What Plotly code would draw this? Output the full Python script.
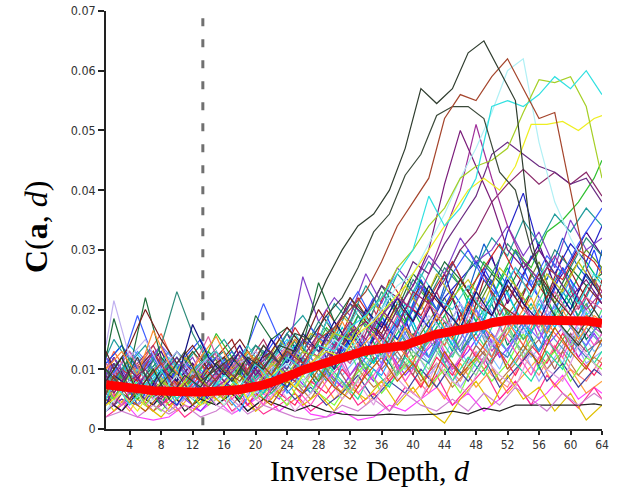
import plotly.graph_objects as go

# ---------------- data (values in units of 1e-3) ----------------
X_ODD = [1, 3, 5, 7, 9, 11, 13, 15, 17, 19, 21, 23, 25, 27, 29, 31, 33, 35, 37, 39,
         41, 43, 45, 47, 49, 51, 53, 55, 57, 59, 61, 63, 64]
X_EVEN = [1, 2, 4, 6, 8, 10, 12, 14, 16, 18, 20, 22, 24, 26, 28, 30, 32, 34, 36, 38,
          40, 42, 44, 46, 48, 50, 52, 54, 56, 58, 60, 62, 64]
X_ALL = list(range(1, 65))

X_TICKS = [4, 8, 12, 16, 20, 24, 28, 32, 36, 40, 44, 48, 52, 56, 60, 64]
Y_TICKS = [0, 0.01, 0.02, 0.03, 0.04, 0.05, 0.06, 0.07]
Y_TICK_LABELS = ["0", "0.01", "0.02", "0.03", "0.04", "0.05", "0.06", "0.07"]

DASH_X = 13.3
DASH_Y = [0.0688, 0.0]

mean_curve = [7.4, 7.3, 7.1, 7.0, 6.8, 6.6, 6.4, 6.3, 6.3, 6.3, 6.2, 6.2, 6.2, 6.2, 6.3, 6.4,
              6.5, 6.6, 6.8, 7.1, 7.4, 7.8, 8.2, 8.7, 9.3, 9.9, 10.3, 10.7, 11.3, 11.8, 12.2, 12.6,
              12.9, 13.1, 13.3, 13.5, 13.6, 13.7, 14.0, 14.5, 15.1, 15.6, 15.9, 16.1, 16.3, 16.5, 16.7, 17.0,
              17.4, 17.8, 18.1, 18.2, 18.3, 18.3, 18.3, 18.3, 18.2, 18.1, 18.0, 18.0, 18.1, 18.1, 17.9, 17.7]

# high-peak curves
h1 = [8, 12, 6, 10, 5, 9, 7, 11, 8, 12, 10, 14, 13, 19, 25, 30, 34, 36, 40, 47, 57, 54.5, 57, 63, 65, 60, 55, 32, 21, 17, 14, 18, 16]
h2 = [6, 9, 5, 8, 11, 6, 9, 7, 10, 8, 12, 9, 13, 11, 15, 17, 20, 23, 28, 34, 38, 42, 52, 56, 55, 59, 62, 57, 52, 53, 40, 27, 22]
h3 = [10, 7, 12, 6, 9, 13, 8, 10, 12, 9, 14, 11, 16, 15, 19, 22, 27, 33, 36, 42.5, 46, 52.5, 54, 54, 52, 43, 40, 30, 23, 19, 16, 20, 18]
h4 = [5, 8, 4, 7, 10, 5, 8, 6, 9, 7, 11, 8, 12, 10, 14, 13, 17, 19, 22, 26, 30, 39, 34, 37, 42, 54, 55, 54, 56, 59, 57, 60, 56]
h5 = [7, 5, 9, 4, 8, 6, 10, 7, 5, 9, 7, 11, 9, 13, 12, 16, 15, 19, 22, 27, 30, 34, 37, 42, 44, 45, 47, 53, 58.5, 58, 59, 54, 42]
h6 = [4, 6, 3, 7, 5, 8, 4, 6, 9, 5, 8, 10, 7, 11, 13, 12, 16, 18, 21, 24, 28, 32, 36, 40, 42, 40, 44, 51, 51, 51.5, 50, 52, 52.5]
h7 = [3, 5, 8, 4, 6, 9, 5, 7, 4, 8, 6, 9, 11, 8, 12, 15, 13, 17, 20, 24, 26, 31, 36, 42, 47, 53, 60, 62, 48, 38, 32, 27, 24]
h8 = [9, 6, 10, 7, 5, 9, 6, 11, 8, 6, 10, 7, 12, 10, 14, 12, 16, 18, 15, 20, 24, 30, 41, 50, 44, 38, 30, 27, 30, 26, 22, 25, 21]
h9 = [5, 8, 6, 9, 4, 7, 10, 6, 8, 11, 7, 9, 13, 11, 10, 14, 17, 15, 19, 22, 20, 26, 33, 40, 51, 42, 34, 28, 25, 29, 24, 20, 23]
h10 = [8, 11, 7, 5, 9, 12, 8, 6, 10, 13, 9, 12, 10, 15, 13, 17, 21, 19, 24, 22, 28, 26, 31, 35, 39, 46, 48, 46, 44, 43, 41, 42, 38]
h11 = [6, 4, 8, 10, 6, 9, 5, 8, 11, 7, 10, 13, 9, 12, 16, 14, 18, 15, 20, 17, 23, 21, 25, 30, 33, 38, 41, 43.5, 41, 43, 41, 43, 39]

# mid-level curves
m1 = [4, 7, 5, 9, 6, 4, 8, 5, 7, 10, 6, 9, 7, 11, 14, 12, 16, 13, 18, 15, 20, 17, 22, 25, 28, 24, 33, 39.5, 30, 26, 31, 28, 34]
m2 = [6, 9, 5, 8, 11, 7, 10, 16, 12, 9, 13, 10, 15, 12, 17, 14, 19, 16, 21, 18, 23, 20, 26, 22, 28, 25, 30, 27, 33, 35, 38, 42, 45]
m3 = [12, 15, 11, 14, 9, 13, 10, 12, 15, 11, 14, 12, 16, 19, 15, 21, 18, 24, 20, 26, 23, 28, 25, 30, 27, 32, 29, 35, 31, 36, 33, 37, 34]
m4 = [7, 10, 8, 13, 9, 6, 11, 8, 12, 10, 14, 11, 17, 13, 20, 16, 22, 18, 25, 21, 19, 24, 28, 23, 27, 31, 26, 23, 27, 25, 30, 28, 26]
m5 = [9, 12, 8, 11, 14, 9, 12, 7, 10, 13, 9, 15, 12, 25.5, 18, 22, 19, 26, 21, 27, 24, 29, 26, 32, 28, 30, 34, 29, 33, 27, 35, 30, 32]
m6 = [10, 8, 12, 9, 14, 23, 16, 11, 13, 9, 14, 11, 16, 13, 18, 15, 21, 17, 23, 19, 25, 22, 27, 24, 29, 26, 31, 28, 24, 30, 27, 32, 29]
m7 = [8, 11, 19, 12, 8, 11, 9, 12, 10, 14, 21, 15, 12, 17, 14, 19, 23, 18, 22, 17, 24, 20, 26, 30, 25, 22, 27, 24, 29, 26, 31, 35, 37]
m8 = [12, 18.5, 10, 22, 12, 9, 13, 10, 12, 9, 19, 15, 17, 14, 24.5, 18, 22, 19, 24, 20, 26, 23, 28, 25, 21, 26, 23, 28, 25, 22, 27, 24, 26]
m9 = [5, 8, 6, 10, 7, 12, 9, 11, 8, 13, 10, 15, 12, 16, 14, 19, 16, 21, 18, 24, 20, 26, 22, 25, 21, 27, 24, 20, 26, 23, 28, 24, 27]
m10 = [11, 9, 13, 8, 11, 7, 10, 15.5, 9, 12, 8, 11, 14, 10, 16, 13, 11, 17, 14, 19, 15, 21, 18, 16, 22, 19, 24, 20, 17, 23, 19, 22, 20]
m11 = [13, 10, 14, 20, 15, 11, 14, 10, 12, 15, 11, 13, 17, 14, 20, 16, 22, 18, 16, 21, 18, 23, 20, 25, 21, 19, 24, 20, 26, 22, 19, 24, 21]
m12 = [9, 6, 10, 7, 12, 8, 11, 13, 9, 14, 10, 13, 16, 12, 18, 15, 20, 17, 23, 19, 26, 22, 20, 24, 19, 23, 27, 22, 28, 24, 21, 26, 25]
m13 = [14, 21.5, 12, 15, 10, 13, 9, 12, 8, 11, 13, 10, 14, 12, 16, 13, 18, 15, 12, 17, 14, 19, 16, 21, 17, 14, 19, 16, 22, 18, 15, 20, 17]
m14 = [10, 13, 9, 16.5, 11, 8, 12, 15.5, 10, 13, 9, 12, 15, 11, 14, 18, 13, 16, 12, 17, 14, 19, 15, 21, 17, 14, 18, 22, 16, 20, 15, 19, 18]
m15 = [6, 9, 7, 5, 10, 8, 17.5, 12, 9, 13, 10, 15, 11, 16, 13, 18, 14, 20, 17, 22, 18, 24, 20, 17, 23, 19, 25, 21, 18, 24, 20, 26, 22]

# low-band curves
l1 = [3, 5, 2, 1.5, 2, 4, 3, 5, 2.5, 4, 6, 3, 5, 2.5, 2, 3, 1.5, 2, 4, 3, 5, 7, 4, 6, 3, 5, 8, 4, 6, 9, 5, 7, 6]
l2 = [7, 5, 8, 4, 6, 9, 5, 7, 10, 6, 8, 5, 9, 7, 11, 8, 6, 10, 7, 12, 9, 6, 11, 8, 13, 9, 7, 12, 9, 14, 10, 8, 12]
l3 = [11, 8, 12, 9, 6, 10, 7, 11, 8, 5, 9, 12, 8, 10, 13, 9, 12, 8, 14, 10, 13, 9, 15, 11, 14, 10, 16, 12, 15, 11, 17, 13, 14]
l4 = [4, 6, 3, 7, 5, 3, 6, 4, 8, 5, 3, 7, 4, 6, 9, 5, 8, 4, 7, 10, 6, 9, 5, 11, 7, 10, 6, 9, 12, 7, 10, 6, 8]
l5 = [9, 12, 7, 10, 13, 8, 11, 6, 9, 12, 7, 10, 14, 9, 12, 16, 10, 14, 11, 17, 13, 16, 12, 18, 14, 20, 15, 19, 24, 18, 22, 17, 20]
l6 = [6, 9, 11, 7, 10, 6, 9, 12, 7, 10, 5, 8, 11, 6, 9, 13, 8, 11, 6, 10, 14, 9, 12, 7, 11, 15, 10, 13, 8, 12, 16, 11, 13]
l7 = [2, 4, 6, 3, 5, 2, 4, 7, 3, 5, 2.5, 4, 6, 3, 5, 8, 4, 6, 3, 7, 5, 9, 4, 7, 10, 5, 8, 4, 9, 6, 3.5, 7, 5]
l8 = [8, 11, 6, 9, 12, 7, 4, 8, 11, 6, 9, 13, 8, 11, 7, 12, 15, 10, 13, 9, 16, 12, 18, 13, 16, 21, 14, 18, 13, 17, 22, 15, 18]
l9 = [5, 3, 7, 4, 8, 5, 3, 6, 9, 4, 7, 5, 9, 6, 10, 7, 11, 8, 13, 9, 12, 15, 10, 13, 17, 12, 15, 19, 14, 17, 12, 16, 14]
l10 = [10, 7, 9, 12, 8, 11, 7, 9, 6, 8, 11, 7, 10, 13, 9, 11, 14, 10, 16, 12, 10, 15, 11, 14, 18, 12, 16, 13, 19, 15, 12, 17, 14]
l11 = [6, 8, 5, 3, 6, 9, 5, 7, 4, 7, 10, 6, 8, 5, 9, 6, 10, 7, 9, 13, 8, 11, 7, 10, 13, 8, 11, 15, 10, 13, 9, 12, 11]
l12 = [13, 10, 14, 11, 8, 12, 9, 13, 10, 14, 8, 12, 15, 11, 14, 10, 17, 13, 19, 15, 21, 17, 14, 20, 16, 23, 18, 15, 21, 17, 24, 19, 22]
l13 = [4, 7, 5, 8, 4, 6, 9, 5, 7, 4, 8, 6, 4, 8, 6, 10, 7, 12, 8, 11, 7, 12, 9, 14, 10, 13, 9, 14, 11, 16, 12, 9, 11]
l14 = [7, 4, 8, 5, 3, 6, 8, 4, 6, 9, 5, 7, 4, 9, 6, 4, 8, 11, 6, 9, 12, 7, 10, 6, 12, 8, 11, 16, 10, 13, 8, 12, 10]
l15 = [3, 5, 4, 6, 3, 5, 7, 4, 6, 3, 5, 8, 5, 7, 4, 6, 9, 5, 8, 6, 10, 7, 11, 8, 12, 7, 10, 13, 8, 11, 7, 10, 9]
l16 = [9, 6, 10, 7, 12, 8, 11, 6, 9, 12, 7, 10, 13, 8, 11, 15, 9, 12, 16, 10, 14, 18, 11, 15, 20, 13, 17, 22, 15, 19, 14, 18, 16]
l17 = [11, 14, 9, 12, 8, 11, 14, 9, 12, 7, 10, 13, 9, 12, 8, 13, 17, 11, 15, 20, 14, 18, 13, 20, 16, 22, 17, 21, 16, 23, 19, 25, 22]
l18 = [5, 3, 6, 4, 2, 5, 3, 6, 4, 7, 3, 5, 8, 4, 6, 3, 7, 5, 8, 4, 7, 3, 1, 5, 8, 4, 9, 5, 7, 3, 6, 1.5, 4]
l19 = [12, 9, 13, 10, 7, 12, 9, 13, 10, 12, 8, 11, 14, 10, 15, 11, 14, 18, 12, 16, 21, 15, 19, 14, 22, 17, 20, 25, 19, 22, 18, 23, 21]
l20 = [8, 10, 6, 9, 7, 10, 6, 9, 12, 7, 10, 6, 9, 12, 8, 11, 7, 14, 10, 13, 9, 16, 12, 9, 14, 11, 17, 12, 15, 10, 16, 13, 15]
l21 = [6, 4, 8, 5, 10, 6, 4, 8, 6, 10, 5, 7, 10, 6, 11, 8, 5, 10, 7, 12, 9, 14, 8, 12, 9, 15, 11, 8, 13, 10, 16, 11, 13]
l22 = [10, 13, 9, 12, 16, 10, 13, 9, 11, 7, 12, 9, 13, 10, 15, 11, 16, 12, 18, 14, 11, 17, 14, 19, 15, 12, 18, 14, 20, 16, 13, 19, 17]
l23 = [5, 3, 6, 4, 7, 3, 5, 4, 6, 3, 5, 4, 3, 4, 3, 2.5, 2.3, 2.3, 2.5, 2.3, 2.4, 2.5, 3, 2.5, 3.5, 3, 4, 4, 4, 4, 4, 4.2, 4]
l24 = [7, 10, 7, 11, 8, 5, 9, 12, 8, 11, 6, 10, 13, 9, 12, 8, 14, 10, 13, 17, 12, 15, 19, 13, 17, 14, 20, 15, 18, 13, 17, 21, 16]
l25 = [2, 3, 2, 4, 2.5, 4, 2, 3, 5, 2.5, 4, 3, 2, 1.5, 2, 4, 3, 5, 3, 6, 4, 3, 5, 3, 6, 4, 7, 5, 3, 6, 4, 6, 5]
l26 = [9, 12, 8, 11, 9, 13, 10, 8, 11, 9, 13, 10, 8, 12, 10, 14, 11, 15, 12, 17, 13, 11, 16, 12, 18, 14, 12, 17, 13, 19, 15, 12, 16]

# extra band curves
e1 = [6, 9, 4, 8, 11, 7, 5, 9, 12, 8, 6, 10, 13, 9, 16, 12, 19, 15, 22, 17, 25, 20, 28, 23, 31, 26, 22, 29, 25, 32, 27, 24, 30]
e2 = [8, 5, 10, 7, 4, 9, 6, 11, 8, 5, 9, 12, 7, 11, 14, 10, 13, 17, 12, 16, 20, 15, 19, 24, 18, 22, 27, 21, 25, 19, 23, 28, 24]
e3 = [12, 8, 11, 14, 9, 7, 10, 13, 8, 11, 15, 10, 8, 13, 11, 16, 12, 20, 15, 13, 18, 23, 17, 21, 26, 19, 24, 18, 22, 27, 20, 25, 23]
e4 = [5, 8, 11, 6, 9, 4, 7, 10, 6, 3, 8, 11, 6, 9, 12, 7, 15, 11, 9, 14, 18, 12, 16, 21, 14, 19, 23, 17, 13, 20, 25, 18, 22]
e5 = [3, 6, 4, 7, 3, 5, 8, 4, 2.5, 6, 4, 7, 3, 6, 9, 5, 8, 4, 10, 7, 5, 11, 8, 6, 12, 9, 7, 13, 10, 8, 14, 11, 9]
e6 = [10, 7, 12, 9, 6, 11, 8, 13, 10, 7, 12, 9, 14, 11, 8, 13, 17, 12, 15, 20, 14, 18, 22, 16, 20, 25, 19, 23, 28, 21, 26, 30, 27]
e7 = [7, 4, 9, 5, 8, 11, 6, 9, 5, 8, 4, 10, 7, 4, 8, 11, 6, 9, 13, 8, 12, 16, 10, 14, 11, 17, 13, 9, 15, 12, 18, 14, 16]
e8 = [9, 12, 7, 10, 13, 8, 11, 7, 10, 14, 9, 12, 16, 11, 14, 10, 18, 13, 17, 22, 15, 20, 26, 18, 23, 29, 21, 26, 31, 24, 28, 33, 29]
e9 = [8, 11, 6, 9, 13, 8, 10, 7, 12, 9, 6, 11, 14, 9, 12, 17, 13, 11, 16, 21, 15, 19, 14, 22, 18, 25, 20, 16, 23, 27, 21, 26, 24]
e10 = [4, 7, 5, 3, 6, 8, 4, 7, 5, 9, 6, 4, 8, 6, 10, 7, 5, 9, 12, 8, 11, 7, 13, 9, 12, 16, 10, 14, 11, 17, 13, 10, 15]
e11 = [11, 14, 10, 13, 8, 12, 15, 10, 13, 9, 12, 16, 11, 15, 19, 13, 17, 22, 16, 20, 25, 18, 23, 19, 27, 22, 30, 24, 20, 27, 23, 30, 26]
e12 = [6, 9, 7, 4, 8, 10, 6, 9, 7, 11, 5, 8, 10, 7, 12, 9, 6, 11, 14, 9, 13, 10, 15, 12, 9, 14, 17, 12, 16, 20, 14, 18, 15]
e13 = [9, 6, 10, 13, 7, 11, 8, 12, 15, 9, 13, 10, 15, 12, 18, 14, 21, 17, 14, 20, 24, 18, 22, 17, 25, 21, 19, 26, 22, 29, 24, 20, 25]
e14 = [12, 9, 13, 10, 14, 11, 8, 12, 9, 13, 10, 7, 11, 14, 10, 16, 12, 15, 11, 18, 14, 12, 17, 13, 20, 16, 13, 18, 15, 21, 17, 14, 19]

# (series, x grid) pairs, drawn in this order
SERIES = [
    (l1, X_ODD), (l2, X_EVEN), (l3, X_ODD), (l4, X_EVEN), (l5, X_ODD), (l6, X_EVEN),
    (l7, X_ODD), (l8, X_EVEN), (l9, X_ODD), (l10, X_EVEN), (l11, X_ODD), (l12, X_EVEN),
    (l13, X_ODD), (l14, X_EVEN), (l15, X_ODD), (l16, X_EVEN), (l17, X_ODD), (l18, X_EVEN),
    (l19, X_ODD), (l20, X_EVEN), (l21, X_ODD), (l22, X_EVEN), (l23, X_ODD), (l24, X_EVEN),
    (l25, X_ODD), (l26, X_EVEN),
    (e1, X_ODD), (e2, X_EVEN), (e3, X_ODD), (e4, X_EVEN), (e5, X_ODD), (e6, X_EVEN),
    (e7, X_ODD), (e8, X_EVEN), (e9, X_ODD), (e10, X_EVEN), (e11, X_ODD), (e12, X_EVEN),
    (e13, X_ODD), (e14, X_EVEN),
    (m1, X_EVEN), (m2, X_ODD), (m3, X_EVEN), (m4, X_ODD), (m5, X_EVEN), (m6, X_EVEN),
    (m7, X_ODD), (m8, X_EVEN), (m9, X_ODD), (m10, X_EVEN), (m11, X_EVEN), (m12, X_ODD),
    (m13, X_EVEN), (m14, X_ODD), (m15, X_EVEN),
    (h11, X_EVEN), (h10, X_EVEN), (h9, X_EVEN), (h8, X_EVEN), (h7, X_EVEN), (h6, X_ODD),
    (h5, X_EVEN), (h4, X_EVEN), (h3, X_ODD), (h2, X_EVEN), (h1, X_ODD),
]

# ---------------- styles ----------------
COLORS = [
    "#ff40ff", "#ff8080", "#80c0ff", "#ffa040", "#40e080", "#a0a0ff",
    "#ff3090", "#008060", "#9030ff", "#60a0c0", "#c08040", "#20c0ff",
    "#ff2060", "#80ff40", "#4040a0", "#c040c0", "#00a8a8", "#e0c000",
    "#6080ff", "#a06060", "#20e0a0", "#ff6040", "#202020", "#50b050",
    "#d080d0", "#4080c0",
    "#1060d0", "#00c060", "#b03060", "#30a0ff", "#e0a0e0", "#609020",
    "#ff50c0", "#4b0082", "#00d0d0", "#c06000", "#2040ff", "#90e090",
    "#a02020", "#7070ff",
    "#2323c8", "#2fc02f", "#209d9d", "#d02828", "#8040c8", "#2e8b7a",
    "#3c5cff", "#1e6e3c", "#c0c020", "#e060a0", "#7a1e1e", "#40d0d0",
    "#c0b0f0", "#ff9030", "#101080",
    "#8a2a6a", "#6b2c82", "#a0309a", "#7a1c7a", "#b0f0f5", "#eeee20",
    "#a5cf25", "#30e0e0", "#3b4a3a", "#a5452c", "#2f3d2f",
]

X_TICK_FONT = dict(family="DejaVu Sans Condensed, DejaVu Sans", size=12, color="#333")
Y_TICK_FONT = dict(family="DejaVu Sans Condensed, DejaVu Sans", size=12.5, color="#333")

fig = go.Figure()

for (vals, xs), col in zip(SERIES, COLORS):
    fig.add_trace(go.Scatter(
        x=xs, y=[v / 1000 for v in vals], mode="lines",
        line=dict(color=col, width=1.2), hoverinfo="skip", showlegend=False))

fig.add_trace(go.Scatter(
    x=X_ALL, y=[v / 1000 for v in mean_curve], mode="lines",
    line=dict(color="#ff0000", width=9), hoverinfo="skip", showlegend=False))

fig.add_shape(type="line", xref="x", yref="y", x0=DASH_X, x1=DASH_X,
              y0=DASH_Y[0], y1=DASH_Y[1], layer="below",
              line=dict(color="#707070", width=3, dash="8px,13px"))

fig.update_layout(
    width=618, height=490,
    margin=dict(l=106, r=16, t=11, b=61, autoexpand=False),
    paper_bgcolor="white", plot_bgcolor="white",
    xaxis=dict(range=[1, 64], tickvals=X_TICKS, showgrid=False, zeroline=False,
               automargin=False,
               showline=True, linecolor="#222", linewidth=1.5,
               ticks="outside", ticklen=4, tickwidth=1.5, tickcolor="#222",
               tickfont=X_TICK_FONT),
    yaxis=dict(range=[0, 0.07], tickvals=Y_TICKS, ticktext=Y_TICK_LABELS,
               showgrid=False, zeroline=False, automargin=False,
               showline=True, linecolor="#222", linewidth=1.5,
               ticks="outside", ticklen=6, tickwidth=1.5, tickcolor="#222",
               tickfont=Y_TICK_FONT),
    annotations=[
        dict(text="Inverse Depth, <i>d</i>", xref="paper", yref="paper",
             x=0.532, y=-0.1447, xanchor="center", yanchor="bottom", showarrow=False,
             font=dict(family="Liberation Serif", size=30, color="black")),
        dict(text="<b>C</b>(<b>a</b>, <i>d</i>)", xref="paper", yref="paper",
             x=-0.142, y=0.482, xanchor="center", yanchor="middle", showarrow=False,
             textangle=-90,
             font=dict(family="Liberation Serif", size=32, color="black")),
    ],
)

# remove the default 8px page margin so the figure sits at the window's corner
fig.write_html("out.html", config={"displayModeBar": False},
               post_script="document.body.style.margin='0';")
